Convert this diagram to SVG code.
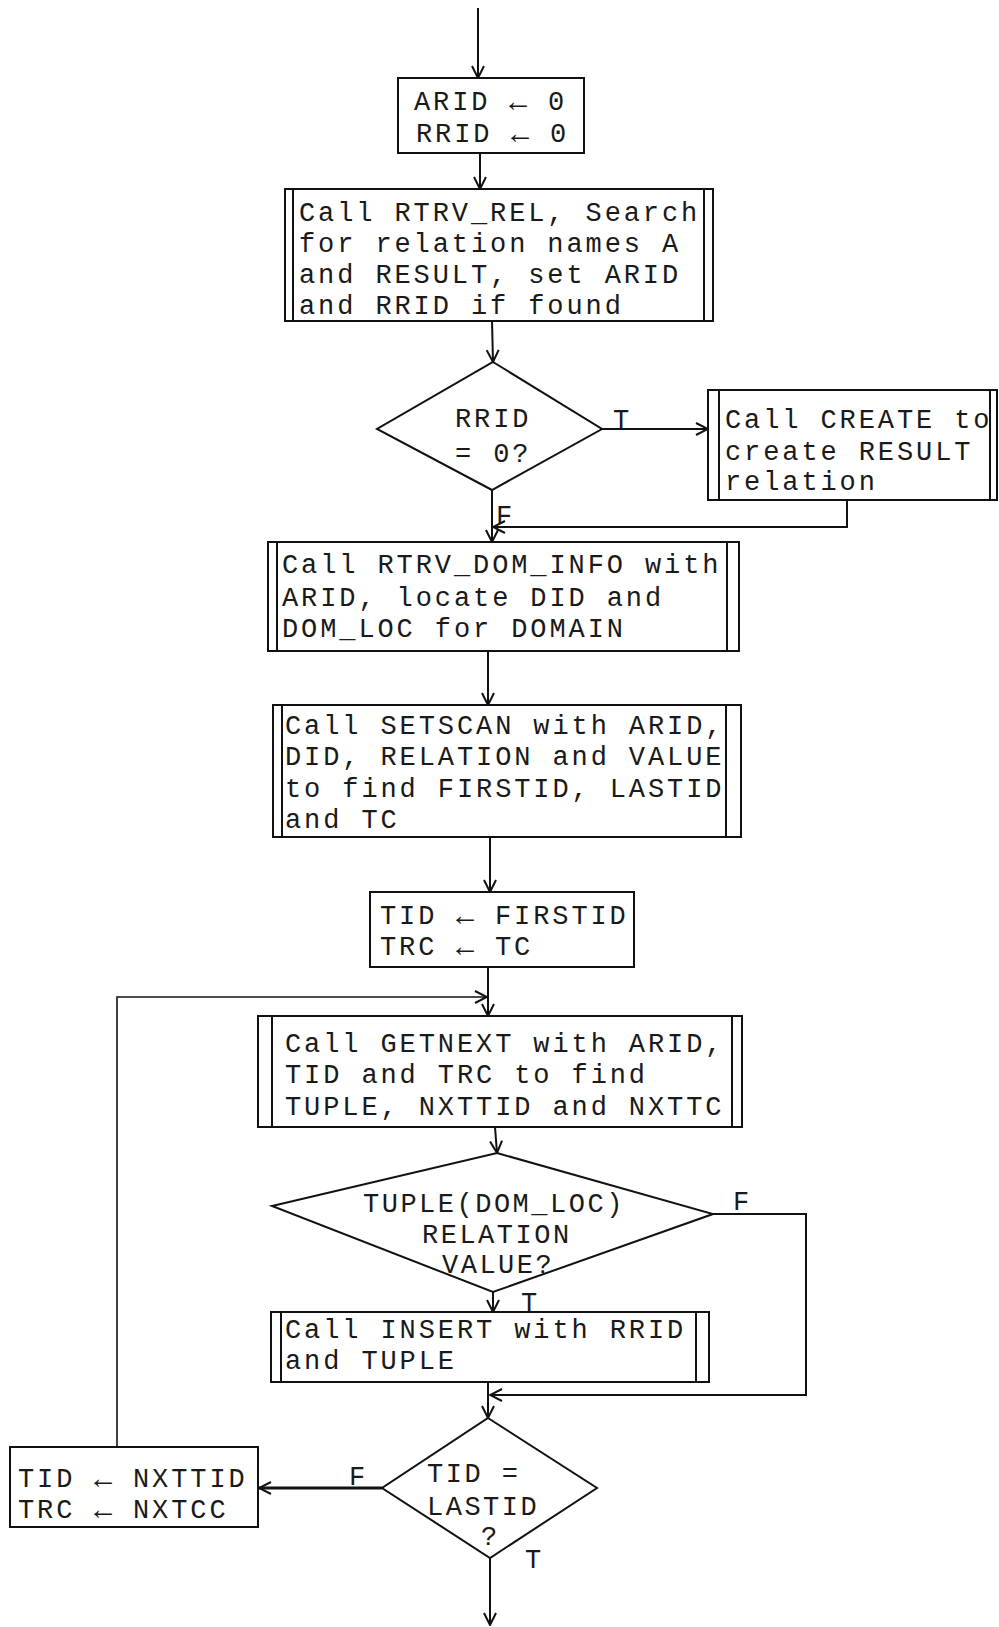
<svg xmlns="http://www.w3.org/2000/svg" width="999" height="1627" viewBox="0 0 999 1627">
<defs>
<marker id="arr" viewBox="0 0 14 14" refX="13" refY="7" markerWidth="14" markerHeight="14" markerUnits="userSpaceOnUse" orient="auto">
<path d="M1,1 L13,7 L1,13" fill="none" stroke="#111" stroke-width="2"/>
</marker>
<style>
.b{fill:#fff;stroke:#111;stroke-width:2}
.l{fill:none;stroke:#111;stroke-width:2}
.c{fill:none;stroke:#111;stroke-width:2}
.t{font-family:"Liberation Mono","DejaVu Sans Mono",monospace;font-size:27px;letter-spacing:2.9px;fill:#1a1a1a}
.d{font-family:"Liberation Mono","DejaVu Sans Mono",monospace;font-size:27px;letter-spacing:2.5px;fill:#1a1a1a}
.a{font-family:"Liberation Mono","DejaVu Sans Mono",monospace;font-size:30px;fill:#1a1a1a}
</style>
</defs>
<rect width="999" height="1627" fill="#fff"/>

<g id="connectors">
<path class="c" d="M478,8 L478,78" marker-end="url(#arr)"/>
<path class="c" d="M480,153 L480,189" marker-end="url(#arr)"/>
<path class="c" d="M492,321 L493,362" marker-end="url(#arr)"/>
<path class="c" d="M602,429 L708,429" marker-end="url(#arr)"/>
<path class="c" d="M847,500 L847,527 L493,527" marker-end="url(#arr)"/>
<path class="c" d="M492,490 L492,542" marker-end="url(#arr)"/>
<path class="c" d="M488,651 L488,705" marker-end="url(#arr)"/>
<path class="c" d="M490,837 L490,892" marker-end="url(#arr)"/>
<path class="c" d="M488,967 L488,1016" marker-end="url(#arr)"/>
<path class="c" style="stroke-width:1.6" d="M117,1447 L117,997 L487,997" marker-end="url(#arr)"/>
<path class="c" d="M495,1127 L497,1153" marker-end="url(#arr)"/>
<path class="c" d="M493,1292 L493,1312" marker-end="url(#arr)"/>
<path class="c" d="M713,1214 L806,1214 L806,1395 L490,1395" marker-end="url(#arr)"/>
<path class="c" d="M488,1382 L488,1418" marker-end="url(#arr)"/>
<path class="c" style="stroke-width:3" d="M382,1488 L259,1488" marker-end="url(#arr)"/>
<path class="c" d="M490,1558 L490,1625" marker-end="url(#arr)"/>
<text class="t" x="613" y="428">T</text>
<text class="t" x="496" y="524">F</text>
<text class="t" x="733" y="1210">F</text>
<text class="t" x="521" y="1311">T</text>
<text class="t" x="349" y="1485">F</text>
<text class="t" x="525" y="1568">T</text>
</g>

<g id="init">
<rect class="b" x="398" y="78" width="186" height="75"/>
<text class="t" x="414" y="110">ARID</text>
<text class="a" x="509" y="111">←</text>
<text class="t" x="548" y="110">0</text>
<text class="t" x="416" y="142">RRID</text>
<text class="a" x="511" y="143">←</text>
<text class="t" x="550" y="142">0</text>
</g>

<g id="rtrv_rel">
<rect class="b" x="285" y="189" width="428" height="132"/>
<path class="l" d="M293,189 V321 M704,189 V321"/>
<text class="t" x="299" y="221">Call RTRV_REL, Search</text>
<text class="t" x="299" y="252">for relation names A</text>
<text class="t" x="299" y="283">and RESULT, set ARID</text>
<text class="t" x="299" y="314">and RRID if found</text>
</g>

<g id="rrid_test">
<polygon class="b" points="493,362 602,429 492,490 377,429"/>
<text class="t" x="455" y="427">RRID</text>
<text class="t" x="455" y="462">= 0?</text>
</g>

<g id="create">
<rect class="b" x="708" y="390" width="289" height="110"/>
<path class="l" d="M719,390 V500 M990,390 V500"/>
<text class="t" x="725" y="428">Call CREATE to</text>
<text class="t" x="725" y="460">create RESULT</text>
<text class="t" x="725" y="490">relation</text>
</g>

<g id="rtrv_dom">
<rect class="b" x="268" y="542" width="471" height="109"/>
<path class="l" d="M277,542 V651 M727,542 V651"/>
<text class="t" x="282" y="573">Call RTRV_DOM_INFO with</text>
<text class="t" x="282" y="606">ARID, locate DID and</text>
<text class="t" x="282" y="637">DOM_LOC for DOMAIN</text>
</g>

<g id="setscan">
<rect class="b" x="273" y="705" width="468" height="132"/>
<path class="l" d="M282,705 V837 M726,705 V837"/>
<text class="t" x="285" y="734">Call SETSCAN with ARID,</text>
<text class="t" x="285" y="765">DID, RELATION and VALUE</text>
<text class="t" x="285" y="797">to find FIRSTID, LASTID</text>
<text class="t" x="285" y="828">and TC</text>
</g>

<g id="tid_init">
<rect class="b" x="370" y="892" width="264" height="75"/>
<text class="t" x="380" y="924">TID</text>
<text class="a" x="456" y="925">←</text>
<text class="t" x="495" y="924">FIRSTID</text>
<text class="t" x="380" y="955">TRC</text>
<text class="a" x="456" y="956">←</text>
<text class="t" x="495" y="955">TC</text>
</g>

<g id="getnext">
<rect class="b" x="258" y="1016" width="484" height="111"/>
<path class="l" d="M272,1016 V1127 M732,1016 V1127"/>
<text class="t" x="285" y="1052">Call GETNEXT with ARID,</text>
<text class="t" x="285" y="1083">TID and TRC to find</text>
<text class="t" x="285" y="1115">TUPLE, NXTTID and NXTTC</text>
</g>

<g id="tuple_test">
<polygon class="b" points="497,1153 713,1214 493,1292 272,1206"/>
<text class="d" x="363" y="1212">TUPLE(DOM_LOC)</text>
<text class="d" x="422" y="1243">RELATION</text>
<text class="d" x="442" y="1273">VALUE?</text>
</g>

<g id="insert">
<rect class="b" x="271" y="1312" width="438" height="70"/>
<path class="l" d="M281,1312 V1382 M696,1312 V1382"/>
<text class="t" x="285" y="1338">Call INSERT with RRID</text>
<text class="t" x="285" y="1369">and TUPLE</text>
</g>

<g id="lastid_test">
<polygon class="b" points="488,1418 597,1488 490,1558 382,1488"/>
<text class="d" x="427" y="1482">TID =</text>
<text class="d" x="427" y="1515">LASTID</text>
<text class="d" x="481" y="1545">?</text>
</g>

<g id="tid_next">
<rect class="b" x="10" y="1447" width="248" height="80"/>
<text class="t" x="18" y="1487">TID</text>
<text class="a" x="94" y="1488">←</text>
<text class="t" x="133" y="1487">NXTTID</text>
<text class="t" x="18" y="1518">TRC</text>
<text class="a" x="94" y="1519">←</text>
<text class="t" x="133" y="1518">NXTCC</text>
</g>
</svg>
